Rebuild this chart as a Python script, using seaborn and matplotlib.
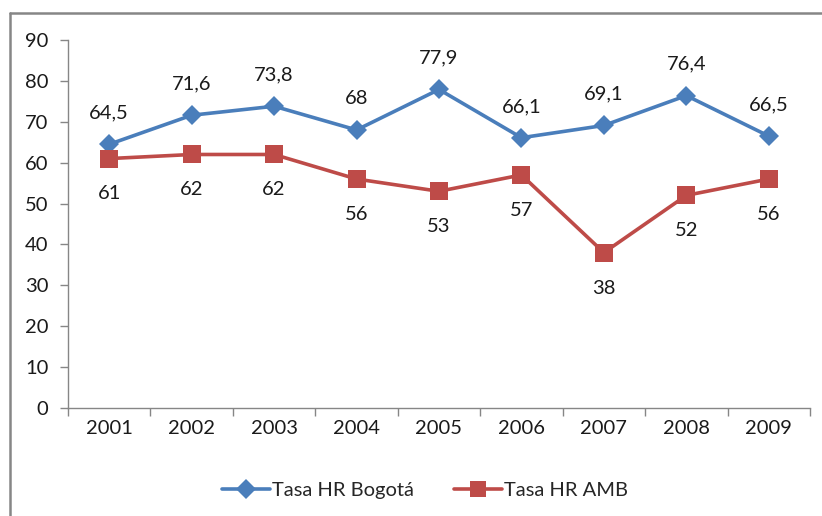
import matplotlib
matplotlib.use("Agg")
import matplotlib.pyplot as plt
from matplotlib.lines import Line2D
from matplotlib.ticker import FixedLocator, NullFormatter
import numpy as np
import pandas as pd
import seaborn as sns

# Series data
years = [2001, 2002, 2003, 2004, 2005, 2006, 2007, 2008, 2009]
bogota = [64.5, 71.6, 73.8, 68, 77.9, 66.1, 69.1, 76.4, 66.5]
amb = [61, 62, 62, 56, 53, 57, 38, 52, 56]
series_names = ["Tasa HR Bogotá", "Tasa HR AMB"]
y_ticks = [0, 10, 20, 30, 40, 50, 60, 70, 80, 90]

BLUE = "#4A7EBB"
RED = "#BE4B48"
GRAY = "#868686"

sns.set_theme(style="white")
plt.rcParams["font.family"] = ["Lato", "DejaVu Sans"]

df = pd.DataFrame({
    "year": years * 2,
    "value": bogota + amb,
    "serie": [series_names[0]] * len(years) + [series_names[1]] * len(years),
})

fig = plt.figure(figsize=(8.22, 5.16), dpi=100)
ax = fig.add_axes([68 / 822, 1 - 408 / 516, (810 - 68) / 822, (408 - 40) / 516])

sns.lineplot(
    data=df, x="year", y="value", hue="serie", style="serie",
    palette={series_names[0]: BLUE, series_names[1]: RED},
    markers={series_names[0]: "D", series_names[1]: "s"},
    dashes=False, linewidth=2.6, markersize=10.5, markeredgewidth=0,
    legend=False, ax=ax,
)
# squares drawn a bit larger than the diamonds
for line in ax.get_lines():
    if line.get_marker() == "s":
        line.set_markersize(12.5)
    line.set_solid_joinstyle("miter")

# data labels
fs = 14.5
for x, v in zip(years, bogota):
    txt = f"{v:g}".replace(".", ",")
    ax.annotate(txt, (x, v), xytext=(0, 22.5), textcoords="offset points",
                ha="center", va="center", fontsize=fs, color="#1a1a1a")
for x, v in zip(years, amb):
    txt = f"{v:g}".replace(".", ",")
    ax.annotate(txt, (x, v), xytext=(0, -25.5), textcoords="offset points",
                ha="center", va="center", fontsize=fs, color="#1a1a1a")

# axes styling
ax.set_xlim(years[0] - 0.5, years[-1] + 0.5)
ax.set_ylim(0, 90)
ax.set_yticks(y_ticks)
ax.set_xticks(years)
ax.set_xticklabels([str(y) for y in years])
ax.xaxis.set_minor_locator(FixedLocator(np.arange(years[0] - 0.5, years[-1] + 1, 1.0)))
ax.xaxis.set_minor_formatter(NullFormatter())
ax.tick_params(axis="x", which="major", length=0, pad=9, labelsize=fs, labelcolor="#1a1a1a")
ax.tick_params(axis="x", which="minor", length=6, width=1, color=GRAY, bottom=True)
ax.tick_params(axis="y", which="major", length=6, width=1, color=GRAY, left=True,
               pad=8, labelsize=fs, labelcolor="#1a1a1a")
ax.set_xlabel("")
ax.set_ylabel("")
ax.grid(False)
for side in ["top", "right"]:
    ax.spines[side].set_visible(False)
for side in ["left", "bottom"]:
    ax.spines[side].set_color(GRAY)
    ax.spines[side].set_linewidth(1)

# legend
handles = [
    Line2D([], [], color=BLUE, marker="D", markersize=10, lw=2.6, markeredgewidth=0),
    Line2D([], [], color=RED, marker="s", markersize=12, lw=2.6, markeredgewidth=0),
]
fig.legend(handles, series_names, loc="center", bbox_to_anchor=(425 / 822, 1 - 490 / 516),
           ncol=2, frameon=False, fontsize=fs, handlelength=2.4, columnspacing=2.0,
           handletextpad=0.1)

# outer chart frame (top and left edges)
fig.add_artist(Line2D([10 / 822, 1], [1 - 13 / 516, 1 - 13 / 516], transform=fig.transFigure,
                      color=GRAY, lw=1.8))
fig.add_artist(Line2D([10 / 822, 10 / 822], [0, 1 - 13 / 516], transform=fig.transFigure,
                      color=GRAY, lw=1.8))

fig.savefig("out.png", dpi=100, facecolor="white")
